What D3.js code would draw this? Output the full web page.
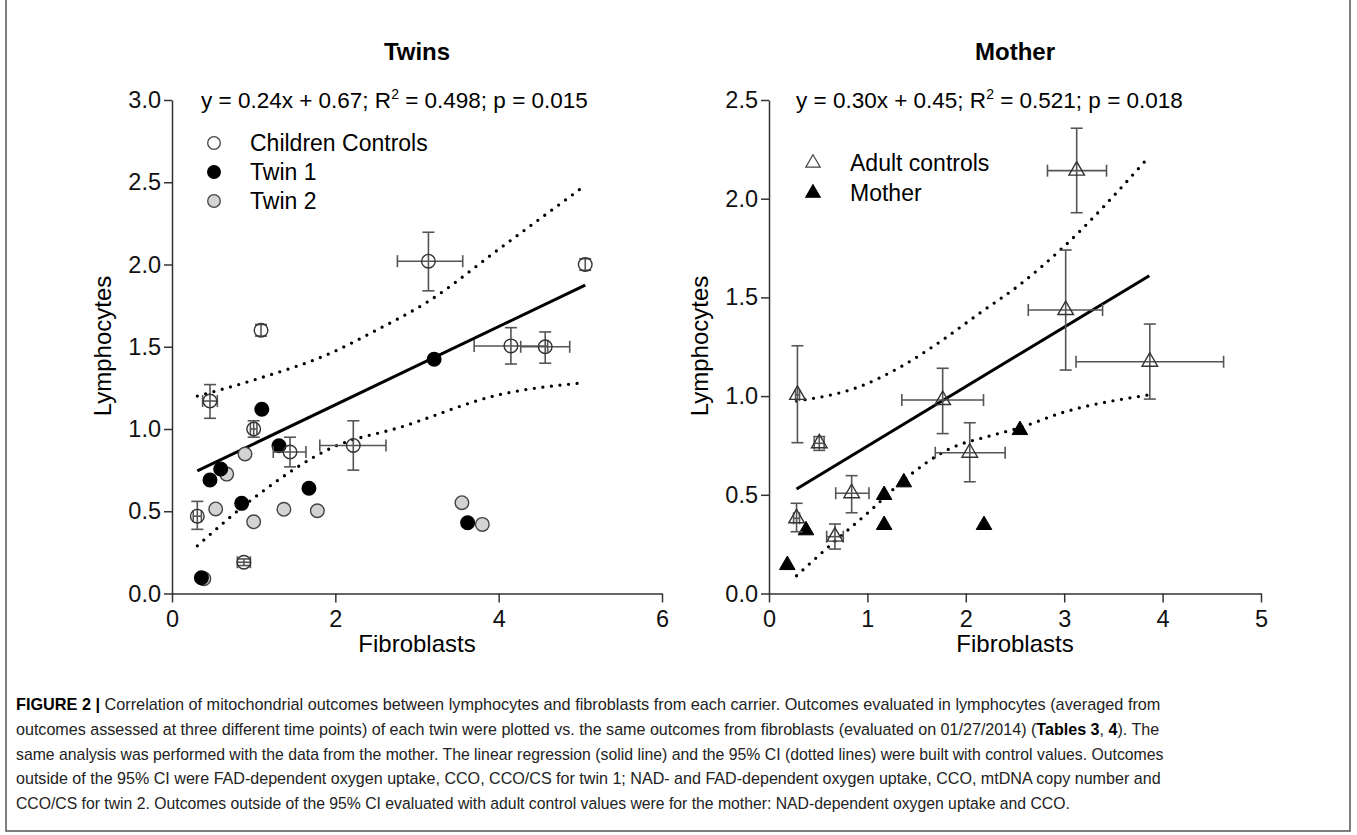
<!DOCTYPE html>
<html><head><meta charset="utf-8">
<script src="https://cdn.jsdelivr.net/npm/d3@7"></script>
<style>
html,body{margin:0;padding:0;background:#fff;}
svg text{font-family:"Liberation Sans",Arial,sans-serif;}
</style></head>
<body>
<svg id="fig" width="1357" height="835"></svg>
<script>
// ---------- Twins panel data ----------
const twinsTicksX = [0, 2, 4, 6];
const twinsTicksY = [0, 0.5, 1.0, 1.5, 2.0, 2.5, 3.0];
const childCtrlX   = [0.31, 0.465, 1.09, 1.00, 1.445, 0.88, 2.22, 3.14, 4.15, 4.57, 5.06];
const childCtrlY   = [0.47, 1.17, 1.60, 1.00, 0.86, 0.19, 0.90, 2.02, 1.505, 1.50, 2.00];
const childCtrlXLo = [0.26, 0.375, 1.09, 0.96, 1.24, 0.80, 1.81, 2.76, 3.70, 4.27, 5.06];
const childCtrlXHi = [0.36, 0.555, 1.09, 1.04, 1.64, 0.96, 2.62, 3.56, 4.60, 4.87, 5.06];
const childCtrlYLo = [0.39, 1.065, 1.565, 0.95, 0.77, 0.17, 0.75, 1.84, 1.395, 1.40, 1.965];
const childCtrlYHi = [0.56, 1.27, 1.635, 1.05, 0.95, 0.21, 1.05, 2.196, 1.616, 1.59, 2.035];
const twin1X = [0.36, 0.465, 0.596, 0.853, 1.10, 1.31, 1.677, 3.21, 3.62];
const twin1Y = [0.096, 0.69, 0.757, 0.548, 1.12, 0.898, 0.64, 1.424, 0.43];
const twin2X = [0.39, 0.535, 0.67, 0.894, 1.00, 1.37, 1.78, 3.55, 3.80];
const twin2Y = [0.09, 0.514, 0.726, 0.848, 0.436, 0.512, 0.503, 0.552, 0.42];
const twinsFitX = [0.31, 5.06];
const twinsFitY = [0.745, 1.875];
const twinsCiUpX = [0.31, 1.08, 1.89, 2.50, 3.12, 4.02, 5.03];
const twinsCiUpY = [1.20, 1.31, 1.45, 1.60, 1.77, 2.10, 2.47];
const twinsCiLoX = [0.31, 1.08, 1.975, 2.79, 4.02, 5.02];
const twinsCiLoY = [0.29, 0.61, 0.89, 1.01, 1.21, 1.28];

// ---------- Mother panel data ----------
const motherTicksX = [0, 1, 2, 3, 4, 5];
const motherTicksY = [0, 0.5, 1.0, 1.5, 2.0, 2.5];
const adultX   = [0.289, 0.511, 0.28, 0.67, 0.84, 1.765, 2.04, 3.127, 3.015, 3.87];
const adultY   = [1.006, 0.761, 0.381, 0.288, 0.508, 0.98, 0.713, 2.142, 1.436, 1.174];
const adultXLo = [0.27, 0.46, 0.25, 0.586, 0.678, 1.35, 1.69, 2.83, 2.635, 3.12];
const adultXHi = [0.31, 0.56, 0.31, 0.755, 1.016, 2.18, 2.40, 3.43, 3.39, 4.62];
const adultYLo = [0.764, 0.725, 0.313, 0.225, 0.409, 0.81, 0.566, 1.929, 1.132, 0.985];
const adultYHi = [1.255, 0.795, 0.457, 0.352, 0.597, 1.141, 0.865, 2.357, 1.74, 1.365];
const motherX = [0.186, 0.376, 1.17, 1.17, 1.37, 2.185, 2.55];
const motherY = [0.144, 0.32, 0.499, 0.347, 0.563, 0.347, 0.828];
const motherFitX = [0.28, 3.865];
const motherFitY = [0.529, 1.61];
const motherCiUpX = [0.28, 0.93, 1.33, 1.74, 2.14, 2.55, 2.96, 3.84];
const motherCiUpY = [0.975, 1.05, 1.146, 1.276, 1.42, 1.565, 1.74, 2.20];
const motherCiLoX = [0.28, 0.59, 1.03, 1.37, 1.81, 2.28, 2.55, 2.96, 3.86];
const motherCiLoY = [0.09, 0.23, 0.42, 0.575, 0.727, 0.803, 0.84, 0.913, 1.006];

// ---------- text ----------
const panelTitles = ["Twins", "Mother"];
const xLabel = "Fibroblasts";
const yLabel = "Lymphocytes";
const twinsEq = ["y = 0.24x + 0.67; R", "2", " = 0.498; p = 0.015"];
const motherEq = ["y = 0.30x + 0.45; R", "2", " = 0.521; p = 0.018"];
const twinsLegend = ["Children Controls", "Twin 1", "Twin 2"];
const motherLegend = ["Adult controls", "Mother"];
const captionLines = [
  [["FIGURE 2 | ", true], ["Correlation of mitochondrial outcomes between lymphocytes and fibroblasts from each carrier. Outcomes evaluated in lymphocytes (averaged from", false]],
  [["outcomes assessed at three different time points) of each twin were plotted vs. the same outcomes from fibroblasts (evaluated on 01/27/2014) (", false], ["Tables 3", true], [", ", false], ["4", true], ["). The", false]],
  [["same analysis was performed with the data from the mother. The linear regression (solid line) and the 95% CI (dotted lines) were built with control values. Outcomes", false]],
  [["outside of the 95% CI were FAD-dependent oxygen uptake, CCO, CCO/CS for twin 1; NAD- and FAD-dependent oxygen uptake, CCO, mtDNA copy number and", false]],
  [["CCO/CS for twin 2. Outcomes outside of the 95% CI evaluated with adult control values were for the mother: NAD-dependent oxygen uptake and CCO.", false]]
];
const captionWidths = [1145, 1144, 1148, 1145, 1055];

const svg = d3.select("#fig");

// frame
svg.append("rect").attr("x", 6).attr("y", -2).attr("width", 1344).attr("height", 833)
  .attr("fill", "none").attr("stroke", "#555").attr("stroke-width", 1.5);

const AX = "#333", EB = "#555";

function panel(cfg) {
  const g = svg.append("g");
  const x = d3.scaleLinear().domain(cfg.xDom).range(cfg.xRange);
  const y = d3.scaleLinear().domain(cfg.yDom).range(cfg.yRange);

  const ax = g.append("g").attr("transform", `translate(0,${cfg.yRange[0]})`)
    .call(d3.axisBottom(x).tickValues(cfg.ticksX).tickFormat(d3.format("d")).tickSize(9).tickSizeOuter(0).tickPadding(8));
  const ay = g.append("g").attr("transform", `translate(${cfg.xRange[0]},0)`)
    .call(d3.axisLeft(y).tickValues(cfg.ticksY).tickFormat(d3.format(".1f")).tickSize(8).tickSizeOuter(0).tickPadding(3));
  [ax, ay].forEach(a => {
    a.selectAll("path,line").attr("stroke", AX).attr("stroke-width", 1.5);
    a.selectAll("text").attr("font-size", 23.5).attr("fill", "#111")
      .attr("font-family", '"Liberation Sans", Arial, sans-serif');
  });

  const cx = (cfg.xRange[0] + cfg.xRange[1]) / 2;
  g.append("text").attr("x", cx).attr("y", 60).attr("text-anchor", "middle")
    .attr("font-size", 24).attr("font-weight", "bold").text(cfg.title);
  g.append("text").attr("x", cx).attr("y", 652).attr("text-anchor", "middle")
    .attr("font-size", 24).text(xLabel);
  g.append("text").attr("transform", `translate(${cfg.xRange[0] - 61},346) rotate(-90)`)
    .attr("text-anchor", "middle").attr("font-size", 24).text(yLabel);

  const eq = g.append("text").attr("x", cfg.eqX).attr("y", 108).attr("font-size", 22.5);
  eq.append("tspan").text(cfg.eq[0]);
  eq.append("tspan").attr("font-size", 14).attr("dy", -9).text(cfg.eq[1]);
  eq.append("tspan").attr("dy", 9).text(cfg.eq[2]);

  const line = d3.line().x(d => x(d[0])).y(d => y(d[1])).curve(d3.curveMonotoneX);
  [[cfg.ciUpX, cfg.ciUpY], [cfg.ciLoX, cfg.ciLoY]].forEach(([xs, ys]) => {
    g.append("path").datum(d3.zip(xs, ys)).attr("d", line)
      .attr("fill", "none").attr("stroke", "#000").attr("stroke-width", 3.3)
      .attr("stroke-linecap", "round").attr("stroke-dasharray", "0,8.6");
  });
  g.append("path").datum(d3.zip(cfg.fitX, cfg.fitY)).attr("d", d3.line().x(d => x(d[0])).y(d => y(d[1])))
    .attr("fill", "none").attr("stroke", "#000").attr("stroke-width", 3);

  return {g, x, y};
}

function errorBars(g, x, y, xs, ys, xlo, xhi, ylo, yhi) {
  const cap = 6;
  const eb = g.append("g").attr("stroke", EB).attr("stroke-width", 1.6).attr("fill", "none");
  xs.forEach((xv, i) => {
    const px = x(xv), py = y(ys[i]);
    const y1 = y(yhi[i]), y2 = y(ylo[i]);
    const x1 = x(xlo[i]), x2 = x(xhi[i]);
    if (Math.abs(y2 - y1) > 0.5) {
      eb.append("line").attr("x1", px).attr("x2", px).attr("y1", y1).attr("y2", y2);
      eb.append("line").attr("x1", px - cap).attr("x2", px + cap).attr("y1", y1).attr("y2", y1);
      eb.append("line").attr("x1", px - cap).attr("x2", px + cap).attr("y1", y2).attr("y2", y2);
    }
    if (Math.abs(x2 - x1) > 0.5) {
      eb.append("line").attr("x1", x1).attr("x2", x2).attr("y1", py).attr("y2", py);
      eb.append("line").attr("x1", x1).attr("x2", x1).attr("y1", py - cap).attr("y2", py + cap);
      eb.append("line").attr("x1", x2).attr("x2", x2).attr("y1", py - cap).attr("y2", py + cap);
    }
  });
}

// ---------- Twins ----------
{
  const {g, x, y} = panel({
    xDom: [0, 6], xRange: [172, 662], yDom: [0, 3], yRange: [593.5, 100],
    ticksX: twinsTicksX, ticksY: twinsTicksY, title: panelTitles[0], eqX: 201, eq: twinsEq,
    fitX: twinsFitX, fitY: twinsFitY, ciUpX: twinsCiUpX, ciUpY: twinsCiUpY, ciLoX: twinsCiLoX, ciLoY: twinsCiLoY
  });
  const R = 6.8;
  g.append("g").selectAll("circle").data(d3.zip(twin2X, twin2Y)).join("circle")
    .attr("cx", d => x(d[0])).attr("cy", d => y(d[1])).attr("r", R)
    .attr("fill", "#d3d3d3").attr("stroke", "#444").attr("stroke-width", 1.4);
  g.append("g").selectAll("circle").data(d3.zip(twin1X, twin1Y)).join("circle")
    .attr("cx", d => x(d[0])).attr("cy", d => y(d[1])).attr("r", R)
    .attr("fill", "#000").attr("stroke", "#000").attr("stroke-width", 1.4);
  errorBars(g, x, y, childCtrlX, childCtrlY, childCtrlXLo, childCtrlXHi, childCtrlYLo, childCtrlYHi);
  g.append("g").selectAll("circle").data(d3.zip(childCtrlX, childCtrlY)).join("circle")
    .attr("cx", d => x(d[0])).attr("cy", d => y(d[1])).attr("r", R)
    .attr("fill", "none").attr("stroke", "#333").attr("stroke-width", 1.4);

  const lg = g.append("g");
  const fills = ["#fff", "#000", "#d3d3d3"], strokes = ["#444", "#000", "#444"];
  const ly = [143, 172, 201];
  twinsLegend.forEach((t, i) => {
    lg.append("circle").attr("cx", 214).attr("cy", ly[i]).attr("r", 6.3)
      .attr("fill", fills[i]).attr("stroke", strokes[i]).attr("stroke-width", 1.3);
    lg.append("text").attr("x", 250).attr("y", ly[i] + 8).attr("font-size", 23).text(t);
  });
}

// ---------- Mother ----------
{
  const {g, x, y} = panel({
    xDom: [0, 5], xRange: [769, 1261], yDom: [0, 2.5], yRange: [593.5, 100],
    ticksX: motherTicksX, ticksY: motherTicksY, title: panelTitles[1], eqX: 796, eq: motherEq,
    fitX: motherFitX, fitY: motherFitY, ciUpX: motherCiUpX, ciUpY: motherCiUpY, ciLoX: motherCiLoX, ciLoY: motherCiLoY
  });
  const tri = d3.symbol().type(d3.symbolTriangle).size(105);
  g.append("g").selectAll("path").data(d3.zip(motherX, motherY)).join("path")
    .attr("d", tri).attr("transform", d => `translate(${x(d[0])},${y(d[1])})`)
    .attr("fill", "#000").attr("stroke", "#000").attr("stroke-width", 1);
  errorBars(g, x, y, adultX, adultY, adultXLo, adultXHi, adultYLo, adultYHi);
  g.append("g").selectAll("path").data(d3.zip(adultX, adultY)).join("path")
    .attr("d", tri).attr("transform", d => `translate(${x(d[0])},${y(d[1])})`)
    .attr("fill", "none").attr("stroke", "#333").attr("stroke-width", 1.4);

  const lg = g.append("g");
  const ly = [163, 193];
  const ltri = d3.symbol().type(d3.symbolTriangle).size(90);
  motherLegend.forEach((t, i) => {
    lg.append("path").attr("d", ltri).attr("transform", `translate(813,${ly[i]})`)
      .attr("fill", i === 0 ? "#fff" : "#000").attr("stroke", i === 0 ? "#444" : "#000").attr("stroke-width", 1.2);
    lg.append("text").attr("x", 850).attr("y", ly[i] + 8).attr("font-size", 23).text(t);
  });
}

// ---------- caption (each line scaled horizontally to the reference width) ----------
const capBase = [710, 735, 760, 784, 809];
captionLines.forEach((parts, i) => {
  const g = svg.append("g");
  const t = g.append("text").attr("x", 0).attr("y", 0).attr("font-size", 17)
    .attr("fill", "#222");
  parts.forEach(([s, b]) => {
    t.append("tspan").attr("font-weight", b ? "bold" : "normal").attr("fill", b ? "#000" : "#222").text(s);
  });
  const w = t.node().getComputedTextLength();
  const sx = captionWidths[i] / w;
  g.attr("transform", `translate(16,${capBase[i]}) scale(${sx},1)`);
});
</script>
</body></html>
